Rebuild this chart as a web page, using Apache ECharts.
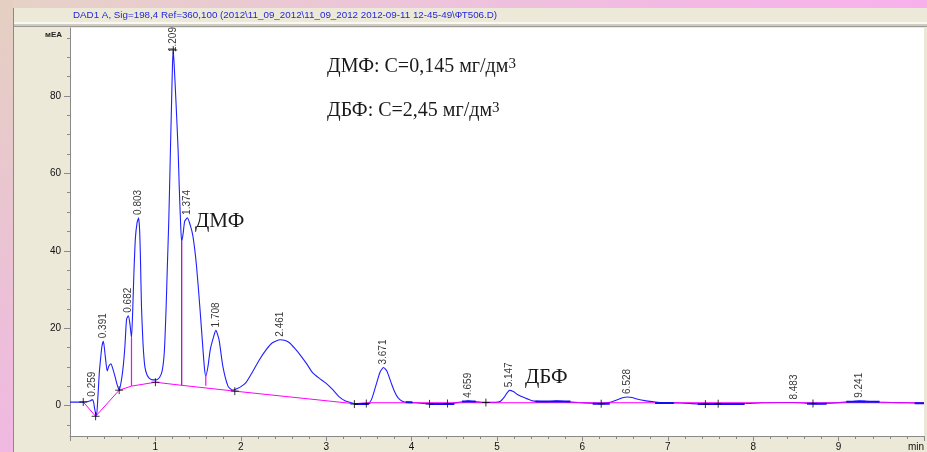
<!DOCTYPE html>
<html>
<head>
<meta charset="utf-8">
<script src="https://cdn.jsdelivr.net/npm/echarts@6/dist/echarts.min.js"></script>
<style>
  html, body { margin: 0; padding: 0; background: #ECE9D8; overflow: hidden; }
  #chart { width: 927px; height: 452px; }
</style>
</head>
<body>
<div id="chart"></div>
<script>
// DAD1 A signal, retention time (min) vs absorbance (mEA)
const signal = [
  [0.00,0.85],[0.08,0.85],[0.15,0.85],[0.20,0.95],[0.24,1.2],[0.259,1.5],[0.275,1.0],[0.29,-1.0],[0.31,-2.8],
  [0.325,1.5],[0.343,8.4],[0.36,12.5],[0.374,15.3],[0.391,16.6],[0.413,12.7],[0.436,8.9],[0.455,10.2],[0.479,10.8],
  [0.50,9.6],[0.526,7.6],[0.55,5.5],[0.576,3.95],[0.604,6.8],[0.625,10.5],[0.643,15.3],[0.662,22.2],[0.682,23.2],
  [0.70,21.4],[0.72,17.5],[0.735,25],[0.748,34],[0.765,43],[0.785,47.2],[0.803,48.5],[0.815,45.5],[0.825,38],
  [0.837,25.6],[0.855,16],[0.876,10.1],[0.90,8.0],[0.93,7.0],[0.97,6.6],[1.01,6.6],[1.05,7.3],[1.08,9],[1.105,14],
  [1.125,25],[1.14,36],[1.157,48],[1.176,66],[1.19,79],[1.20,88],[1.209,91.9],[1.22,88],[1.24,79],[1.266,66],
  [1.28,56],[1.297,46],[1.308,42.3],[1.325,44.5],[1.343,47.6],[1.374,48.5],[1.41,46.5],[1.44,43.7],[1.48,36.4],
  [1.52,25.6],[1.557,14.5],[1.575,9.5],[1.59,7.6],[1.615,10],[1.643,14.5],[1.682,17.8],[1.708,19.4],[1.745,17],
  [1.79,10.1],[1.85,5.0],[1.905,3.95],[1.96,4.4],[2.01,5.0],[2.06,5.9],[2.14,8.8],[2.22,11.9],[2.30,14.5],
  [2.37,16.2],[2.461,17.0],[2.52,16.8],[2.57,16.2],[2.63,14.8],[2.69,13.2],[2.77,10.8],[2.84,8.5],[2.92,7.0],
  [3.00,5.7],[3.08,4.0],[3.15,2.3],[3.22,1.2],[3.28,0.8],[3.34,0.4],[3.42,0.35],[3.49,0.5],[3.53,1.5],[3.58,5.0],
  [3.63,8.6],[3.671,9.8],[3.71,8.9],[3.76,5.9],[3.80,3.6],[3.84,2.0],[3.89,1.1],[3.95,0.8],[4.05,0.7],[4.20,0.4],
  [4.42,0.35],[4.55,0.8],[4.62,1.0],[4.659,1.2],[4.72,1.0],[4.85,0.8],[4.98,0.8],[5.04,1.1],[5.09,2.3],[5.12,3.3],
  [5.147,3.9],[5.19,3.6],[5.25,2.7],[5.33,1.9],[5.40,1.3],[5.47,1.05],[5.60,1.0],[5.70,1.2],[5.80,1.0],[5.95,0.75],
  [6.10,0.6],[6.22,0.45],[6.32,0.8],[6.40,1.4],[6.47,2.0],[6.528,2.2],[6.58,2.05],[6.65,1.6],[6.73,1.25],[6.82,1.0],
  [6.95,0.7],[7.15,0.65],[7.35,0.4],[7.55,0.35],[7.75,0.4],[7.92,0.5],[8.10,0.7],[8.30,0.75],[8.483,0.75],[8.62,0.6],
  [8.74,0.45],[8.90,0.6],[9.08,0.85],[9.18,1.1],[9.241,1.2],[9.32,1.1],[9.45,0.9],[9.62,0.75],[9.80,0.7],[10.0,0.55]
];

// integration baseline
const baseline = [
  [0.155,0.9],[0.30,-2.8],[0.576,3.95],[0.72,5.0],[1.0,6.0],[1.31,5.2],[1.93,3.7],[3.33,0.45],[3.47,0.7],[10.0,0.7]
];

// peak drop lines: time, top, bottom
const dropTimes = [0.72, 1.308, 1.59];
const dropTops = [17.5, 42.3, 7.6];
const dropBottoms = [5.0, 5.2, 5.1];
const dropColors = ['#ff00ff', '#b000b0', '#ff00ff'];

// flat stretches drawn heavier: start, end, level
const flatStarts = [3.33, 3.93, 4.21, 4.59, 5.45, 6.12, 6.85, 7.35, 8.63, 9.09, 9.89];
const flatEnds   = [3.50, 4.01, 4.50, 4.75, 5.86, 6.32, 7.07, 7.90, 8.86, 9.48, 10.0];
const flatLevels = [0.35, 0.8, 0.35, 1.0, 1.0, 0.45, 0.65, 0.35, 0.45, 0.95, 0.55];

// peak start / end markers
const markTimes  = [0.155, 0.30, 0.576, 1.0, 1.209, 1.93, 3.33, 3.47, 4.21, 4.42, 4.87, 6.22, 7.44, 7.59, 8.70];
const markValues = [0.9, -2.8, 3.95, 6.0, 91.9, 3.7, 0.35, 0.5, 0.4, 0.5, 0.75, 0.45, 0.35, 0.45, 0.5];

// labelled peaks
const peakTimes   = [0.259, 0.391, 0.682, 0.803, 1.209, 1.374, 1.708, 2.461, 3.671, 4.659, 5.147, 6.528, 8.483, 9.241];
const peakHeights = [1.5, 16.6, 23.2, 48.5, 91.9, 48.5, 19.4, 17.0, 9.8, 1.2, 3.9, 2.2, 0.75, 1.2];

// axis ticks
const yMajorTicks = [0, 20, 40, 60, 80];
const yMinorTicks = [-5, 5, 10, 15, 25, 30, 35, 45, 50, 55, 65, 70, 75, 85, 90, 95];
const xTickLabels = ['', '1', '2', '3', '4', '5', '6', '7', '8', '9', 'min'];

const headerText = 'DAD1 A, Sig=198,4 Ref=360,100 (2012\\11_09_2012\\11_09_2012 2012-09-11 12-45-49\\ФТ506.D)';

const axisGray = '#8a8a8a';
const sans = 'Liberation Sans, Arial, sans-serif';
const serif = 'Liberation Serif, Times New Roman, serif';
const inkColor = '#1a1a1a';
const yMin = -7.9, yMax = 97.6;

const series = [];

series.push({
  type: 'line', data: signal, symbol: 'none', smooth: 0.2,
  lineStyle: { color: '#1f1fff', width: 1.1 }, z: 3, silent: true
});

series.push({
  type: 'line', data: baseline, symbol: 'none',
  lineStyle: { color: '#ff00ff', width: 1 }, z: 4, silent: true
});

dropTimes.forEach((t, i) => {
  series.push({
    type: 'line', data: [[t, dropTops[i]], [t, dropBottoms[i]]], symbol: 'none',
    lineStyle: { color: dropColors[i], width: 1.2 }, z: 4, silent: true
  });
});

const flatData = [];
flatStarts.forEach((s, i) => {
  flatData.push([s, flatLevels[i]], [flatEnds[i], flatLevels[i]], null);
});
series.push({
  type: 'line', data: flatData, symbol: 'none', connectNulls: false,
  lineStyle: { color: '#1010ee', width: 2 }, z: 5, silent: true
});

series.push({
  type: 'scatter', data: markTimes.map((t, i) => [t, markValues[i]]),
  symbol: 'path://M5,0L5,10M0,5L10,5', symbolSize: 8,
  itemStyle: { color: 'transparent', borderColor: '#000', borderWidth: 1 },
  z: 6, silent: true
});

// labels near the top of the plot sit right on their peak so they stay inside it
series.push({
  type: 'scatter',
  data: peakTimes.map((t, i) => {
    const item = { value: [t, peakHeights[i]] };
    if (peakHeights[i] > yMax - 8) item.label = { distance: -2 };
    return item;
  }),
  symbolSize: 0, z: 7, silent: true,
  label: {
    show: true, position: 'top', distance: 3, rotate: 90,
    align: 'left', verticalAlign: 'middle',
    fontFamily: sans, fontSize: 10, color: '#000',
    formatter: p => p.value[0].toFixed(3)
  }
});

const supStyle = { fontFamily: serif, fontSize: 15, verticalAlign: 'top', fill: inkColor };

const chart = echarts.init(document.getElementById('chart'), null, { renderer: 'canvas' });
chart.setOption({
  animation: false,
  backgroundColor: '#ECE9D8',
  title: {
    text: headerText, left: 73, top: 10, padding: 0,
    textStyle: { fontFamily: sans, fontSize: 9.8, fontWeight: 'normal', color: '#2525d8' }
  },
  grid: {
    left: 70, right: 1, top: 28, bottom: 16,
    show: true, backgroundColor: '#ffffff', borderWidth: 0
  },
  xAxis: {
    type: 'value', min: 0, max: 10, interval: 1,
    axisLine: { onZero: false, lineStyle: { color: axisGray, width: 1 } },
    axisTick: { length: 5, lineStyle: { color: axisGray } },
    minorTick: { show: true, splitNumber: 5, length: 3, lineStyle: { color: axisGray } },
    splitLine: { show: false },
    axisLabel: {
      margin: 6, fontFamily: sans, fontSize: 10, color: '#111',
      alignMaxLabel: 'right', showMaxLabel: true,
      formatter: v => xTickLabels[Math.round(v)]
    }
  },
  yAxis: [
    {
      type: 'value', min: yMin, max: yMax, position: 'left',
      name: 'мЕА', nameLocation: 'end', nameGap: -7,
      nameTextStyle: { fontFamily: sans, fontSize: 8, fontWeight: 'bold', color: '#222',
        align: 'right', verticalAlign: 'middle', padding: [0, 8, 0, 0] },
      axisLine: { onZero: false, show: true, lineStyle: { color: axisGray, width: 1 } },
      axisTick: { show: true, length: 6, customValues: yMajorTicks, lineStyle: { color: axisGray } },
      axisLabel: { show: true, customValues: yMajorTicks, margin: 9, fontFamily: sans, fontSize: 10, color: '#111' },
      splitLine: { show: false }
    },
    {
      type: 'value', min: yMin, max: yMax, position: 'left', offset: 0,
      axisLine: { show: false },
      axisTick: { show: true, length: 3, customValues: yMinorTicks, lineStyle: { color: axisGray } },
      axisLabel: { show: false },
      splitLine: { show: false }
    }
  ],
  graphic: [
    { type: 'rect', shape: { x: 0, y: 0, width: 927, height: 8 }, silent: true,
      style: { fill: new echarts.graphic.LinearGradient(0, 0, 1, 0, [
        { offset: 0, color: '#e6d2c6' }, { offset: 0.5, color: '#eec2dc' }, { offset: 1, color: '#f8b0ec' }]) } },
    { type: 'rect', shape: { x: 0, y: 0, width: 13, height: 452 }, silent: true,
      style: { fill: new echarts.graphic.LinearGradient(0, 0, 0, 1, [
        { offset: 0, color: '#e4d0c2' }, { offset: 1, color: '#f0b8e2' }]) } },
    { type: 'rect', shape: { x: 13, y: 8, width: 1, height: 444 }, silent: true, style: { fill: '#8c8a84' } },
    { type: 'rect', shape: { x: 14, y: 22, width: 913, height: 2 }, silent: true, style: { fill: '#faf8f2' } },
    { type: 'rect', shape: { x: 14, y: 24, width: 913, height: 2 }, silent: true, style: { fill: '#cfcbc0' } },
    { type: 'rect', shape: { x: 14, y: 26, width: 913, height: 1 }, silent: true, style: { fill: '#9c9a94' } },
    { type: 'rect', shape: { x: 925, y: 28, width: 1, height: 408 }, silent: true, style: { fill: '#e4e4e4' } },
    { type: 'text', left: 327, top: 57, silent: true, z: 10,
      style: { text: 'ДМФ: C=0,145 мг/дм{s|3}', fontFamily: serif, fontSize: 20, fill: inkColor,
        rich: { s: supStyle } } },
    { type: 'text', left: 327, top: 101, silent: true, z: 10,
      style: { text: 'ДБФ: C=2,45 мг/дм{s|3}', fontFamily: serif, fontSize: 20, fill: inkColor,
        rich: { s: supStyle } } },
    { type: 'text', left: 195, top: 211, silent: true, z: 10,
      style: { text: 'ДМФ', fontFamily: serif, fontSize: 21, fill: inkColor } },
    { type: 'text', left: 525, top: 367, silent: true, z: 10,
      style: { text: 'ДБФ', fontFamily: serif, fontSize: 21, fill: inkColor } }
  ],
  series: series
});
</script>
</body>
</html>
